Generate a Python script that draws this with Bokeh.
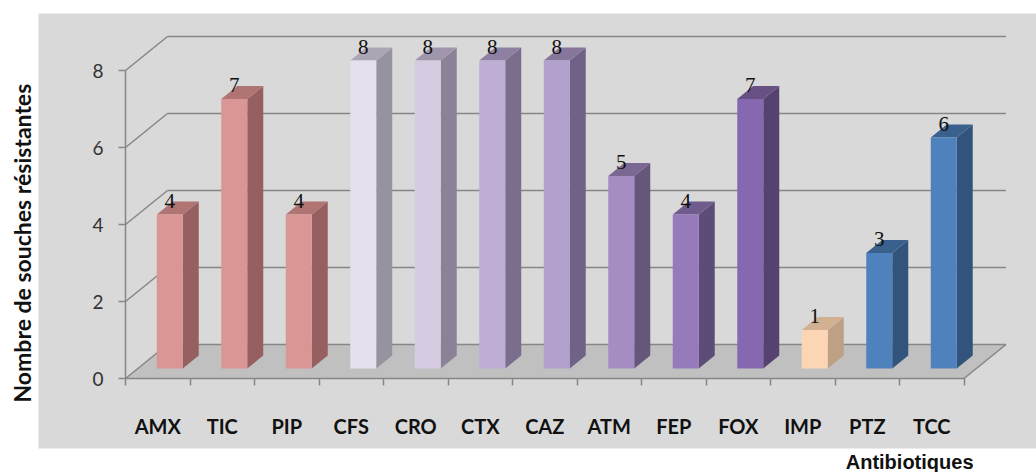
from bokeh.plotting import figure
from bokeh.models import Range1d, LinearAxis, FixedTicker, Title
from bokeh.embed import file_html
from bokeh.resources import INLINE
from bokeh.core.properties import value

# ---- data -------------------------------------------------------------
antibiotiques = ["AMX", "TIC", "PIP", "CFS", "CRO", "CTX", "CAZ",
                 "ATM", "FEP", "FOX", "IMP", "PTZ", "TCC"]
souches_resistantes = [4, 7, 4, 8, 8, 8, 8, 5, 4, 7, 1, 3, 6]
y_ticks = [0, 2, 4, 6, 8]

# ---- bar shading (front / side / top faces) ------------------------------
front_colors = ["#d99694", "#d99694", "#d99694", "#e6e0ec", "#d6cce2", "#beaed6",
                "#b2a0cc", "#a58cc3", "#967abc", "#8668b0", "#fcd5b5", "#4f81bd", "#4f81bd"]
side_colors = ["#966060", "#966060", "#966060", "#96929e", "#8a8296", "#7a6e8c",
               "#706286", "#66567c", "#5e4c78", "#564270", "#bea084", "#32547c", "#32547c"]
top_colors = ["#b07473", "#b07473", "#b07473", "#aca6b4", "#a096ac", "#8e80a2",
              "#86769c", "#7a6892", "#705c8c", "#665084", "#d2b092", "#3a608e", "#3a608e"]

# ---- oblique projection geometry (pixels per data unit) ----------------
PX_X, PX_Y = 64.5, 38.5          # pixels per category / per unit of value
ORIGIN_X, ORIGIN_Y = 125, 378    # where (0, 0) sits on the canvas
FRAME_L, FRAME_R, FRAME_T, FRAME_B = 38, 1036, 13, 448
WALL_DX, WALL_DY = 42 / PX_X, 34 / PX_Y   # depth of the back wall
BAR_SX, BAR_SY = 12 / PX_X, 10 / PX_Y     # bars sit a little behind the front edge
BAR_DX, BAR_DY = 16 / PX_X, 13 / PX_Y     # depth of each bar
BAR_HALF = 13 / PX_X                      # half width of a bar's front face

n = len(antibiotiques)
x_range = Range1d((FRAME_L - ORIGIN_X) / PX_X, (FRAME_R - ORIGIN_X) / PX_X)
y_range = Range1d((ORIGIN_Y - FRAME_B) / PX_Y, (ORIGIN_Y - FRAME_T) / PX_Y)

p = figure(width=1036, height=472, x_range=x_range, y_range=y_range,
           output_backend="svg", toolbar_location=None,
           x_axis_location=None, y_axis_location=None,
           min_border_left=FRAME_L, min_border_right=1036 - FRAME_R,
           min_border_top=FRAME_T, min_border_bottom=472 - FRAME_B,
           background_fill_color="#d9d9d9", border_fill_color="white",
           outline_line_color=None)
p.grid.visible = False

GRID = "#868686"

# floor
p.patch([0, n, n + WALL_DX, WALL_DX], [0, 0, WALL_DY, WALL_DY],
        fill_color="#c0c0c0", line_color=None)
p.segment(x0=[n], y0=[0], x1=[n + WALL_DX], y1=[WALL_DY], line_color=GRID, line_width=1.5)

# back-wall gridlines and their diagonal links to the value axis
p.segment(x0=[WALL_DX] * len(y_ticks), y0=[t + WALL_DY for t in y_ticks],
          x1=[n + WALL_DX] * len(y_ticks), y1=[t + WALL_DY for t in y_ticks],
          line_color=GRID, line_width=1.5)
p.segment(x0=[0] * len(y_ticks), y0=y_ticks,
          x1=[WALL_DX] * len(y_ticks), y1=[t + WALL_DY for t in y_ticks],
          line_color=GRID, line_width=1.5)

# 3-D bars
centers = [i + 0.5 + BAR_SX for i in range(n)]
side_xs, side_ys, top_xs, top_ys = [], [], [], []
for c, v in zip(centers, souches_resistantes):
    l, r = c - BAR_HALF, c + BAR_HALF
    b, t = BAR_SY, v + BAR_SY
    side_xs.append([r, r + BAR_DX, r + BAR_DX, r])
    side_ys.append([b, b + BAR_DY, t + BAR_DY, t])
    top_xs.append([l, r, r + BAR_DX, l + BAR_DX])
    top_ys.append([t, t, t + BAR_DY, t + BAR_DY])

p.patches(side_xs, side_ys, fill_color=side_colors, line_color=None)
p.patches(top_xs, top_ys, fill_color=top_colors, line_color=None)
p.vbar(x=centers, width=2 * BAR_HALF, bottom=BAR_SY,
       top=[v + BAR_SY for v in souches_resistantes],
       fill_color=front_colors, line_color=None)

# value labels above each bar
p.text(x=centers, y=[v + BAR_SY + 14 / PX_Y for v in souches_resistantes],
       text=[str(v) for v in souches_resistantes],
       text_font=value("Liberation Serif"), text_font_size="21px",
       text_align="center", text_baseline="alphabetic", text_color="#111111")

# value axis on the front-left edge
yaxis = LinearAxis(fixed_location=0, ticker=FixedTicker(ticks=y_ticks), bounds=(0, 8),
                   axis_line_color=GRID, axis_line_width=1.5,
                   major_tick_line_color=GRID, major_tick_line_width=1.5,
                   major_tick_out=7, major_tick_in=0,
                   minor_tick_out=0, minor_tick_in=0,
                   major_label_standoff=15,
                   major_label_text_font="Lato", major_label_text_font_size="19px",
                   major_label_text_color="#333333")
p.add_layout(yaxis, "left")

# category axis along the front edge of the floor: names at the category
# centres, short tick marks on the boundaries between categories
xaxis = LinearAxis(fixed_location=0,
                   ticker=FixedTicker(ticks=[i + 0.5 for i in range(n)],
                                      minor_ticks=list(range(n + 1))),
                   bounds=(0, n),
                   major_label_overrides={i + 0.5: name for i, name in enumerate(antibiotiques)},
                   axis_line_color=GRID, axis_line_width=1.5,
                   major_tick_line_color=None, major_tick_out=0, major_tick_in=0,
                   minor_tick_line_color=GRID, minor_tick_line_width=1.5,
                   minor_tick_out=7, minor_tick_in=0,
                   major_label_standoff=28,
                   major_label_text_font="Lato", major_label_text_font_style="bold",
                   major_label_text_font_size="20px", major_label_text_color="#111111")
p.add_layout(xaxis, "below")

# axis titles
p.add_layout(Title(text="Antibiotiques", align="right", offset=63, standoff=0,
                   text_font="Liberation Sans", text_font_style="bold",
                   text_font_size="20px", text_color="#111111"), "below")
p.add_layout(Title(text="Nombre de  souches résistantes", align="left", offset=46,
                   standoff=6, text_font="Lato", text_font_style="bold",
                   text_font_size="23px", text_color="#111111"), "left")

open("out.html", "w").write(file_html(p, INLINE))
